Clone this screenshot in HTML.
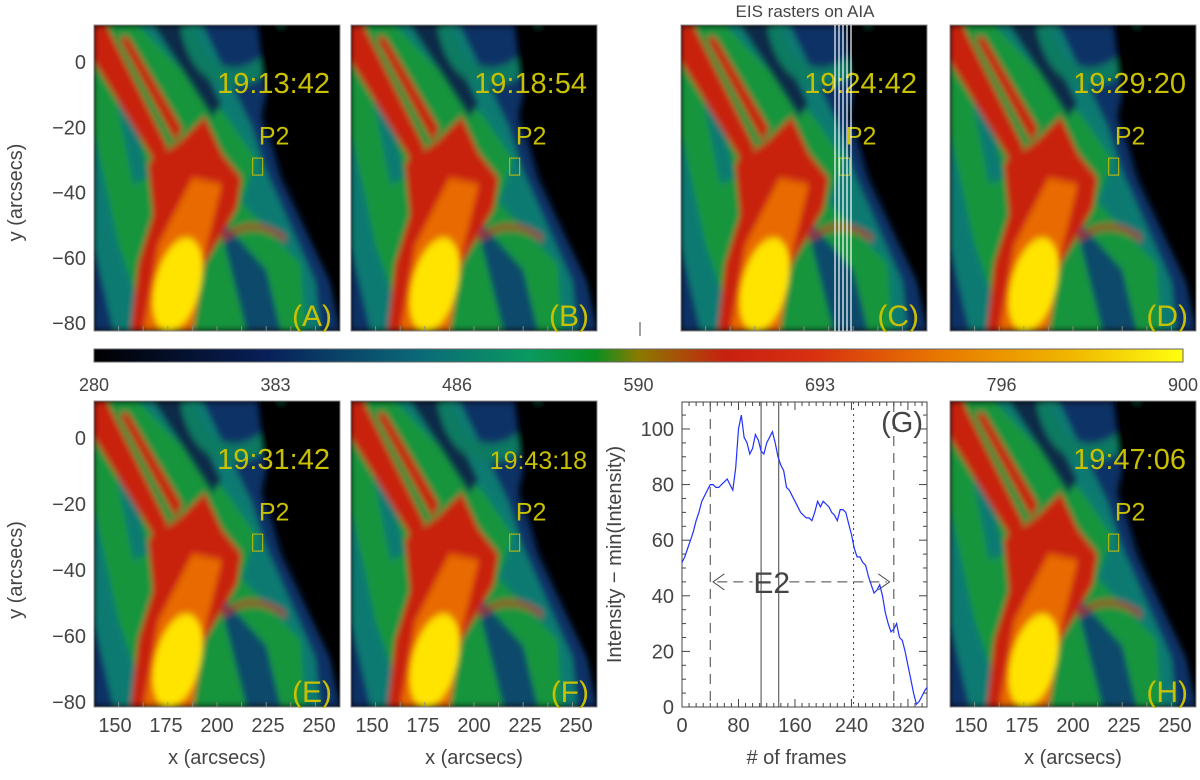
<!DOCTYPE html>
<html><head><meta charset="utf-8">
<style>
body{margin:0;background:#fff;}
svg text{font-family:"Liberation Sans",sans-serif;}
</style></head>
<body>
<svg width="1200" height="775" viewBox="0 0 1200 775" xmlns="http://www.w3.org/2000/svg">
<defs>
<filter id="bl" x="-5%" y="-5%" width="110%" height="110%"><feGaussianBlur stdDeviation="1.2"/></filter>
<clipPath id="cp"><rect x="0" y="0" width="100" height="100"/></clipPath>
<linearGradient id="cb" x1="0" x2="1" y1="0" y2="0">
<stop offset="0" stop-color="#000"/><stop offset="0.16" stop-color="#08205a"/>
<stop offset="0.3" stop-color="#0a6a78"/><stop offset="0.4" stop-color="#0a9a60"/>
<stop offset="0.46" stop-color="#089020"/><stop offset="0.5" stop-color="#8a7a00"/>
<stop offset="0.58" stop-color="#c82010"/><stop offset="0.66" stop-color="#d83010"/>
<stop offset="0.78" stop-color="#e87a00"/><stop offset="0.9" stop-color="#f0b800"/><stop offset="1" stop-color="#ffff10"/>
</linearGradient>
<g id="img" clip-path="url(#cp)">
<rect width="100" height="100" fill="#000"/>
<g filter="url(#bl)">
<polygon points="0,0 74,0 68,30 76,50 96,84 100,100 0,100" fill="#0a3366"/>
<polygon points="0,0 44,0 64,33 70,48 90,84 92,100 8,100 0,72" fill="#0c7a72"/>
<polygon points="0,0 18,0 54,30 66,44 60,58 84,78 86,100 22,100 10,72 0,35" fill="#18953c"/>
<polygon points="24,0 36,0 52,26 48,30" fill="#072a48"/>
<polygon points="8,20 14,22 22,50 16,52" fill="#0c7a72"/>
<polygon points="50,62 70,80 76,100 62,100" fill="#0b4a6a"/>
<path d="M38,0 Q42,17 58,17 Q74,15 78,0" fill="none" stroke="#0d7a62" stroke-width="6"/>
<polygon points="0,0 5,0 30,40 25,45 0,12" fill="#c82010"/>
<polygon points="10,4 14,4 36,34 33,38" fill="#c82010"/>
<polygon points="22,45 35,38 45,30 52,42 60,50 58,60 45,78 40,100 15,100 18,78 24,62" fill="#c82010"/>
<polygon points="20,100 26,72 40,50 52,52 45,75 40,100" fill="#e86a00"/>
<ellipse cx="34" cy="85" rx="9" ry="16" fill="#ffe400" transform="rotate(20 34 85)"/>
<path d="M52,70 Q64,62 78,70" fill="none" stroke="#b02010" stroke-width="1.5"/>
<polygon points="66,0 100,0 100,80 82,56 72,40 69,20" fill="#000"/>
</g>
</g>
</defs>
<text x="805" y="17" font-size="17" fill="#444" text-anchor="middle">EIS rasters on AIA</text>
<g id="panels"></g>
<rect x="94" y="349" width="1089" height="13" fill="url(#cb)" stroke="#666"/>
<line x1="640" y1="322" x2="640" y2="336" stroke="#444"/>
<g id="cblabels" font-size="18" fill="#444" text-anchor="middle"></g>
<g id="plotg"></g>
</svg>
<script>
const NS="http://www.w3.org/2000/svg";
function mk(t,a,p){const e=document.createElementNS(NS,t);for(const k in a)e.setAttribute(k,a[k]);(p||document.querySelector('svg')).appendChild(e);return e;}
const times=["19:13:42","19:18:54","19:24:42","19:29:20","19:31:42","19:43:18","","19:47:06"];
const letters=["A","B","C","D","E","F","G","H"];
const boxes=[[94,25,246,306],[351,25,246,306],[681,25,246,306],[950,25,246,306],[94,401,246,306],[351,401,246,306],[682,402,245,305],[950,401,246,306]];
const P=document.getElementById('panels');
boxes.forEach((b,i)=>{
 if(i===6)return;
 const g=mk('g',{},P);
 
 
 mk('use',{href:'#img',transform:`translate(${b[0]},${b[1]}) scale(${b[2]/100},${b[3]/100})`},g);
 mk('rect',{x:b[0],y:b[1],width:b[2],height:b[3],fill:'none',stroke:'#888'},g);
 const fs=i===5?25:29;
 const t=mk('text',{x:b[0]+b[2]-10,y:b[1]+68,'font-size':fs,fill:'#c8c000','text-anchor':'end'},g);t.textContent=times[i];
 const p=mk('text',{x:b[0]+b[2]*0.67,y:b[1]+b[3]*0.39,'font-size':25,fill:'#c8c000'},g);p.textContent='P2';
 mk('rect',{x:b[0]+b[2]*0.645,y:b[1]+b[3]*0.435,width:10,height:17,fill:'none',stroke:'#c8c000'},g);
 const l=mk('text',{x:b[0]+b[2]-8,y:b[1]+b[3]-5,'font-size':30,fill:'#c8c000','text-anchor':'end'},g);l.textContent='('+letters[i]+')';
 for(let k=1;k<10;k++){mk('line',{x1:b[0]+b[2]*k/10,y1:b[1]+b[3],x2:b[0]+b[2]*k/10,y2:b[1]+b[3]-5,stroke:'#888'},g);}
 if(i===2){[835,839,843,847,851].forEach(x=>mk('line',{x1:x,y1:25,x2:x,y2:331,stroke:'#fff','stroke-width':1.2},g));}
});
const yl=["0","\u221220","\u221240","\u221260","\u221280"];
[[62,323],[438,702]].forEach((r)=>{
 yl.forEach((s,k)=>{const t=mk('text',{x:86,y:r[0]+(r[1]-r[0])*k/4+7,'font-size':20,fill:'#444','text-anchor':'end'});t.textContent=s;
 });
 const yt=mk('text',{x:0,y:0,'font-size':20,fill:'#444','text-anchor':'middle',transform:`translate(22,${(r[0]+r[1])/2}) rotate(-90)`});
 yt.textContent='y (arcsecs)';
});
const xl=["150","175","200","225","250"];
[94,351,950].forEach(x0=>{
 xl.forEach((s,k)=>{const t=mk('text',{x:x0+21+k*51,y:732,'font-size':20,fill:'#444','text-anchor':'middle'});t.textContent=s;
 });
 const xt=mk('text',{x:x0+123,y:764,'font-size':20,fill:'#444','text-anchor':'middle'});xt.textContent='x (arcsecs)';
 
});
const cbVals=["280","383","486","590","693","796","900"];
const CB=document.getElementById('cblabels');
cbVals.forEach((s,k)=>{const t=mk('text',{x:94+k*1089/6,y:391},CB);t.textContent=s;
 });

const frames=[0,4,8,12,16,20,24,28,32,36,40,44,48,52,56,60,64,68,72,76,80,84,88,92,96,100,104,108,112,116,120,124,128,132,136,140,144,148,152,156,160,164,168,172,176,180,184,188,192,196,200,204,208,212,216,220,224,228,232,236,240,244,248,252,256,260,264,268,272,276,280,284,288,292,296,300,304,308,312,316,320,324,328,332,336,340,344,347];
const intensity=[52,54,57,60,63,67,70,74,76,78,80,80,79,79,80,81,82,80,78,86,100,105,97,95,91,93,98,96,92,91,95,97,99,95,90,87,85,79,78,76,74,72,70,69,68,68,67,70,74,72,74,73,72,70,69,67,71,71,70,66,62,57,54,54,52,51,47,44,41,42,44,40,34,30,27,28,30,25,24,20,15,10,5,1,2,4,6,7];
const xTicks=[0,80,160,240,320];
const yTicks=[0,20,40,60,80,100];
const vDashed=[40,300], vSolid=[112,137], vDotted=[243];
const GX0=682,GX1=927,GY0=707,GY1=402,XMAX=347,YMAX=109.7;
const sx=v=>GX0+(GX1-GX0)*v/XMAX, sy=v=>GY0-(GY0-GY1)*v/YMAX;
const G=document.getElementById('plotg');

mk('rect',{x:GX0,y:GY1,width:GX1-GX0,height:GY0-GY1,fill:'#fff',stroke:'#444'},G);
for(let v=0;v<=XMAX;v+=10){const h=v%80===0?8:4;mk('line',{x1:sx(v),y1:GY0,x2:sx(v),y2:GY0-h,stroke:'#444'},G);mk('line',{x1:sx(v),y1:GY1,x2:sx(v),y2:GY1+h,stroke:'#444'},G);}
for(let v=0;v<=YMAX;v+=5){const h=v%20===0?8:4;mk('line',{x1:GX0,y1:sy(v),x2:GX0+h,y2:sy(v),stroke:'#444'},G);mk('line',{x1:GX1,y1:sy(v),x2:GX1-h,y2:sy(v),stroke:'#444'},G);}
xTicks.forEach(v=>{const t=mk('text',{x:sx(v),y:732,'font-size':20,fill:'#444','text-anchor':'middle'},G);t.textContent=v;
 });
yTicks.forEach(v=>{const t=mk('text',{x:GX0-8,y:sy(v)+7,'font-size':20,fill:'#444','text-anchor':'end'},G);t.textContent=v;
 });
const gxt=mk('text',{x:(GX0+GX1)/2-8,y:764,'font-size':20,fill:'#444','text-anchor':'middle'},G);gxt.textContent='# of frames';

const gyt=mk('text',{'font-size':20,fill:'#444','text-anchor':'middle',transform:`translate(621,${(GY0+GY1)/2}) rotate(-90)`},G);gyt.textContent='Intensity \u2212 min(Intensity)';

vDashed.forEach(v=>{const l=mk('line',{x1:sx(v),y1:GY1,x2:sx(v),y2:GY0,stroke:'#444','stroke-dasharray':'10,7'},G);});
vSolid.forEach(v=>{const l=mk('line',{x1:sx(v),y1:GY1,x2:sx(v),y2:GY0,stroke:'#444'},G);});
vDotted.forEach(v=>{const l=mk('line',{x1:sx(v),y1:GY1,x2:sx(v),y2:GY0,stroke:'#444','stroke-dasharray':'2,4'},G);});
let d='';frames.forEach((f,i)=>{d+=(i?'L':'M')+sx(f).toFixed(1)+','+sy(intensity[i]).toFixed(1);});
const ln=mk('path',{d:d,fill:'none',stroke:'#2030ff','stroke-width':1.2},G);

const ay=sy(45);
const ar=mk('g',{},G);
mk('line',{x1:sx(50),y1:ay,x2:sx(100),y2:ay,stroke:'#444','stroke-dasharray':'10,6'},ar);
mk('line',{x1:sx(152),y1:ay,x2:sx(290),y2:ay,stroke:'#444','stroke-dasharray':'10,6'},ar);
mk('polyline',{points:`${sx(60)},${ay-8} ${sx(44)},${ay} ${sx(60)},${ay+8}`,fill:'none',stroke:'#444'},ar);
mk('polyline',{points:`${sx(278)},${ay-8} ${sx(294)},${ay} ${sx(278)},${ay+8}`,fill:'none',stroke:'#444'},ar);
const e2=mk('text',{x:sx(127),y:ay+11,'font-size':30,fill:'#444','text-anchor':'middle'},ar);e2.textContent='E2';
const gl=mk('text',{x:GX1-4,y:GY1+30,'font-size':29,fill:'#444','text-anchor':'end'},G);gl.textContent='(G)';

</script>
</body></html>
